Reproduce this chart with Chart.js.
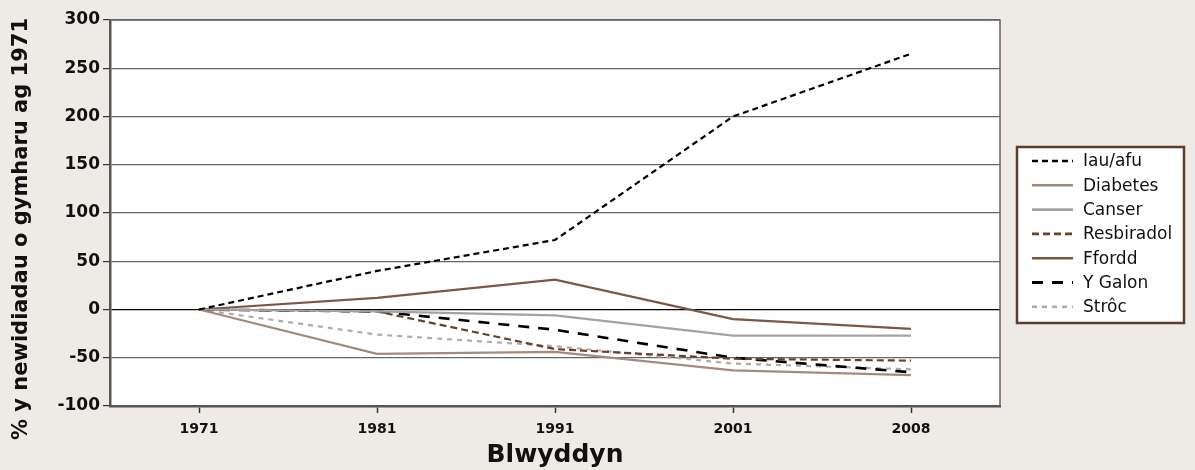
<!DOCTYPE html>
<html>
<head>
<meta charset="utf-8">
<script src="https://cdn.jsdelivr.net/npm/chart.js@4/dist/chart.umd.min.js"></script>
<style>
  html, body { margin: 0; padding: 0; background: #eeebe7; }
  #wrap { width: 1195px; height: 470px; position: relative; }
</style>
</head>
<body>
<div id="wrap"><canvas id="chart" width="1195" height="470"></canvas></div>
<script>
// data (% change vs 1971)
var YEARS      = ['1971', '1981', '1991', '2001', '2008'];
var IAU_AFU    = [0, 40, 72, 200, 265];
var DIABETES   = [0, -46, -44, -63, -68];
var CANSER     = [0, -2, -6, -27, -27];
var RESBIRADOL = [0, -2, -41, -51, -53];
var FFORDD     = [0, 12, 31, -10, -20];
var Y_GALON    = [0, -2, -21, -50, -65];
var STROC      = [0, -26, -38, -56, -62];

var Y_MIN = -100, Y_MAX = 300, Y_STEP = 50;
var Y_TITLE = '% y newidiadau o gymharu ag 1971';

var FONT = 'DejaVu Sans';

function series(label, data, color, dash, width) {
  return {
    label: label,
    data: data,
    borderColor: color,
    backgroundColor: color,
    borderDash: dash,
    borderWidth: width,
    pointRadius: 0,
    tension: 0,
    fill: false,
  };
}

var datasets = [
  series('Iau/afu',    IAU_AFU,    '#000000', [6, 4],  2.2),
  series('Diabetes',   DIABETES,   '#a48a7a', [],      2.2),
  series('Canser',     CANSER,     '#a3a3a3', [],      2.2),
  series('Resbiradol', RESBIRADOL, '#6a4128', [7, 4],  2.2),
  series('Ffordd',     FFORDD,     '#7a5844', [],      2.2),
  series('Y Galon',    Y_GALON,    '#000000', [11, 9], 2.6),
  series('Strôc',      STROC,      '#acacac', [5, 5],  2.2),
];

// white plot area, frame on top/right, rotated y title, boxed legend
var framePlugin = {
  id: 'frame',
  beforeDraw: function (chart) {
    var ctx = chart.ctx, a = chart.chartArea;
    ctx.save();
    ctx.fillStyle = '#ffffff';
    ctx.fillRect(a.left, a.top, a.right - a.left, a.bottom - a.top);
    ctx.restore();
  },
  afterDatasetsDraw: function (chart) {
    var ctx = chart.ctx, a = chart.chartArea;
    ctx.save();
    ctx.strokeStyle = '#666';
    ctx.lineWidth = 1.5;
    ctx.beginPath();
    ctx.moveTo(a.left, a.top);
    ctx.lineTo(a.right, a.top);
    ctx.lineTo(a.right, a.bottom);
    ctx.stroke();
    ctx.restore();
  },
  afterDraw: function (chart) {
    var ctx = chart.ctx;
    ctx.save();
    ctx.translate(22, 229);
    ctx.rotate(-Math.PI / 2);
    ctx.font = 'bold 21px "' + FONT + '"';
    ctx.fillStyle = '#111';
    ctx.textAlign = 'center';
    ctx.textBaseline = 'middle';
    ctx.fillText(Y_TITLE, 0, 0);
    ctx.restore();

    var bx = 1017, by = 147, bw = 167, bh = 176;
    ctx.save();
    ctx.fillStyle = '#ffffff';
    ctx.fillRect(bx, by, bw, bh);
    ctx.strokeStyle = '#5e3c2a';
    ctx.lineWidth = 2.5;
    ctx.strokeRect(bx, by, bw, bh);

    ctx.font = '17px "' + FONT + '"';
    ctx.textBaseline = 'middle';
    ctx.textAlign = 'left';
    chart.data.datasets.forEach(function (ds, i) {
      var y = 161 + i * 24.3;
      ctx.strokeStyle = ds.borderColor;
      ctx.lineWidth = ds.borderWidth + 0.4;
      ctx.setLineDash(ds.borderDash || []);
      ctx.beginPath();
      ctx.moveTo(1032, y);
      ctx.lineTo(1073, y);
      ctx.stroke();
      ctx.setLineDash([]);
      ctx.fillStyle = '#111';
      ctx.fillText(ds.label, 1083, y + 1);
    });
    ctx.restore();
  },
};

new Chart(document.getElementById('chart'), {
  type: 'line',
  data: { labels: YEARS, datasets: datasets },
  plugins: [framePlugin],
  options: {
    responsive: false,
    animation: false,
    layout: { padding: { top: 20, right: 195, left: 0, bottom: 0 } },
    plugins: {
      legend: { display: false },
      tooltip: { enabled: false },
    },
    scales: {
      x: {
        offset: true,
        afterFit: function (s) { s.height = 64; },
        grid: {
          drawOnChartArea: false,
          drawTicks: true,
          tickLength: 7,
          tickColor: '#333',
          tickWidth: 1.5,
        },
        border: { display: true, color: '#555', width: 2.5 },
        ticks: {
          color: '#111',
          padding: 8,
          maxRotation: 0,
          font: { family: FONT, size: 14, weight: 'bold' },
        },
        title: {
          display: true,
          text: 'Blwyddyn',
          color: '#111',
          padding: { top: 0, bottom: 0 },
          font: { family: FONT, size: 25, weight: 'bold', lineHeight: 1.2 },
        },
      },
      y: {
        min: Y_MIN,
        max: Y_MAX,
        afterFit: function (s) { s.width = 110; },
        grid: {
          color: function (c) { return c.tick && c.tick.value === 0 ? '#000' : '#666'; },
          lineWidth: 1.2,
          drawTicks: true,
          tickLength: 7,
          tickColor: '#333',
        },
        border: { display: true, color: '#555', width: 2.5 },
        ticks: {
          stepSize: Y_STEP,
          color: '#111',
          padding: 3,
          font: { family: FONT, size: 17, weight: 'bold' },
        },
        title: { display: false },
      },
    },
  },
});
</script>
</body>
</html>
